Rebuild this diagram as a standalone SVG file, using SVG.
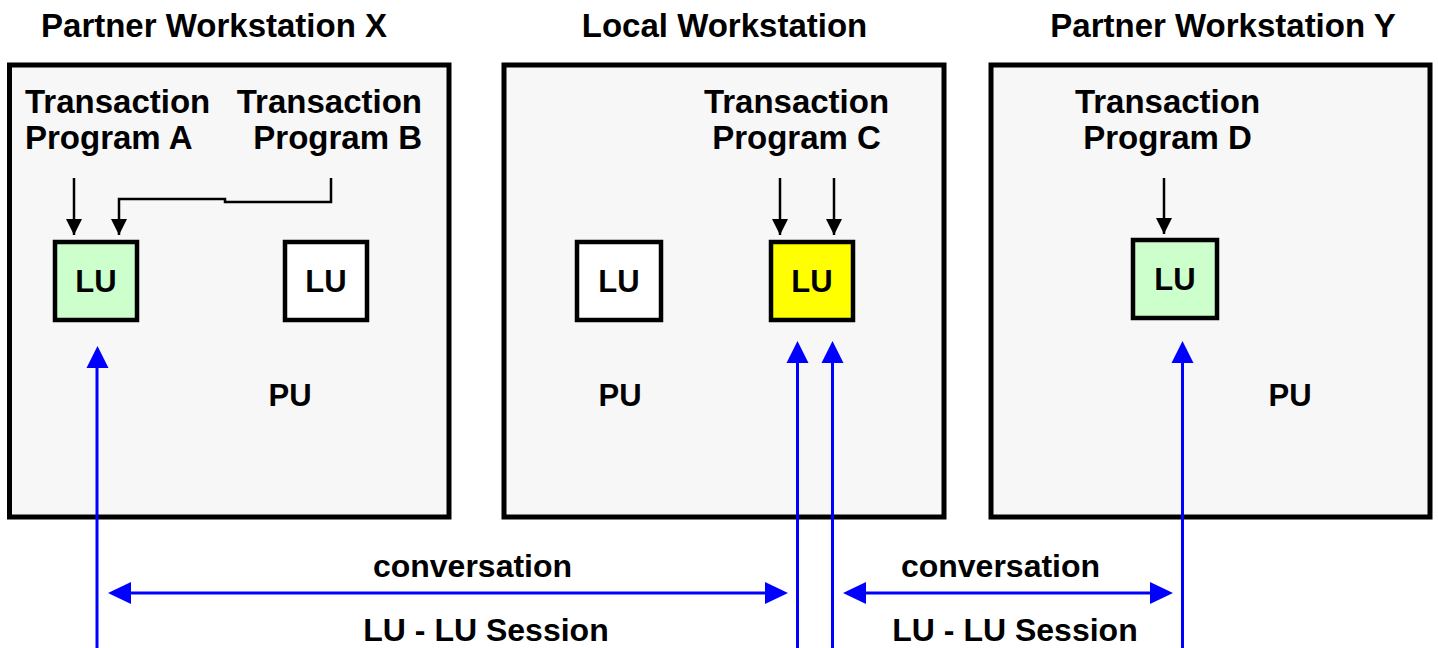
<svg xmlns="http://www.w3.org/2000/svg" width="1438" height="648" viewBox="0 0 1438 648">
<defs>
<style>
text{font-family:"Liberation Sans",Arial,sans-serif;font-weight:bold;font-size:32px;fill:#000}
.c{text-anchor:middle}
.t{font-size:33px}
.s{font-size:31px}
.ws{fill:#f7f7f7;stroke:#000;stroke-width:5}
.lu{stroke:#000;stroke-width:4.5}
.blk{fill:none;stroke:#000;stroke-width:2.5}
.blu{fill:none;stroke:#0000ff;stroke-width:3}
</style>
<marker id="ah" markerWidth="16" markerHeight="16" refX="16" refY="8" orient="auto" markerUnits="userSpaceOnUse" viewBox="0 0 16 16"><path d="M0,0 L16,8 L0,16 Z" fill="#000"/></marker>
</defs>
<rect width="1438" height="648" fill="#fff"/>
<g id="ws-x">
<rect class="ws" x="9.5" y="65" width="439.5" height="452"/>
<text class="c t" x="214" y="37">Partner Workstation X</text>
<text class="t" x="25" y="113">Transaction</text>
<text class="t" x="25" y="149">Program A</text>
<text class="t" x="422" y="113" text-anchor="end">Transaction</text>
<text class="t" x="422" y="149" text-anchor="end">Program B</text>
<text class="c s" x="290" y="406">PU</text>
</g>
<g id="ws-local">
<rect class="ws" x="504" y="65" width="440" height="452"/>
<text class="c t" x="724.5" y="37">Local Workstation</text>
<text class="c t" x="796.5" y="113">Transaction</text>
<text class="c t" x="796.5" y="149">Program C</text>
<text class="c s" x="620" y="406">PU</text>
</g>
<g id="ws-y">
<rect class="ws" x="991" y="65" width="439" height="452"/>
<text class="c t" x="1223" y="37">Partner Workstation Y</text>
<text class="c t" x="1167.5" y="113">Transaction</text>
<text class="c t" x="1167.5" y="149">Program D</text>
<text class="c s" x="1290" y="406">PU</text>
</g>
<g id="lu-a"><rect class="lu" x="55" y="242" width="82" height="78" fill="#ccffcc"/><text class="c s" x="96" y="292">LU</text></g>
<g id="lu-b"><rect class="lu" x="285" y="242" width="82" height="78" fill="#ffffff"/><text class="c s" x="326" y="292">LU</text></g>
<g id="lu-l"><rect class="lu" x="577" y="242" width="84" height="78" fill="#ffffff"/><text class="c s" x="619" y="292">LU</text></g>
<g id="lu-c"><rect class="lu" x="771" y="242" width="82" height="78" fill="#ffff00"/><text class="c s" x="812" y="292">LU</text></g>
<g id="lu-d"><rect class="lu" x="1133" y="240" width="84" height="78" fill="#ccffcc"/><text class="c s" x="1175" y="290">LU</text></g>
<g id="connectors">
<path class="blk" d="M74,178 V235" marker-end="url(#ah)"/>
<path class="blk" d="M331,178 V202 H225 V199 H119 V235" marker-end="url(#ah)"/>
<path class="blk" d="M780,178 V235" marker-end="url(#ah)"/>
<path class="blk" d="M834,178 V235" marker-end="url(#ah)"/>
<path class="blk" d="M1164,178 V234" marker-end="url(#ah)"/>
<g fill="#0000ff">
<path class="blu" d="M97,648 V366"/>
<path d="M97.5,346 L86.5,368 L108.5,368 Z"/>
<path class="blu" d="M797.5,648 V361"/>
<path d="M797.5,341 L786.5,363 L808.5,363 Z"/>
<path class="blu" d="M832.5,648 V361"/>
<path d="M832.5,341 L821.5,363 L843.5,363 Z"/>
<path class="blu" d="M1182.5,648 V361"/>
<path d="M1182.5,341 L1171.5,363 L1193.5,363 Z"/>
<path class="blu" d="M128,593 H768"/>
<path d="M108,593 L131,582 L131,604 Z"/>
<path d="M788,593 L765,582 L765,604 Z"/>
<path class="blu" d="M862,593 H1153"/>
<path d="M843,593 L866,582 L866,604 Z"/>
<path d="M1173,593 L1150,582 L1150,604 Z"/>
</g>
</g>
<text class="c" x="472.5" y="577">conversation</text>
<text class="c" x="486" y="641">LU - LU Session</text>
<text class="c" x="1000.5" y="577">conversation</text>
<text class="c" x="1015" y="641">LU - LU Session</text>
</svg>
